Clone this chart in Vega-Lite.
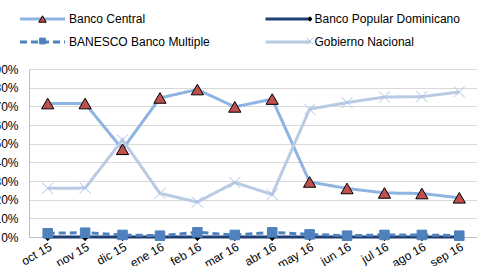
{
  "$schema": "https://vega.github.io/schema/vega-lite/v6.json",
  "width": 449,
  "height": 168,
  "autosize": {"type": "none"},
  "padding": {"left": 29, "top": 69, "right": 0, "bottom": 29},
  "background": "white",
  "config": {
    "view": {"stroke": null},
    "font": "Liberation Sans",
    "axis": {"labelFont": "Liberation Sans", "labelFontSize": 12, "labelColor": "#000000", "title": null},
    "legend": {"labelFont": "Liberation Sans", "labelFontSize": 12, "labelColor": "#000000"}
  },
  "data": {
    "values": [
      {"mes": "oct 15", "serie": "Banco Central", "valor": 0.715},
      {"mes": "nov 15", "serie": "Banco Central", "valor": 0.715},
      {"mes": "dic 15", "serie": "Banco Central", "valor": 0.47},
      {"mes": "ene 16", "serie": "Banco Central", "valor": 0.745},
      {"mes": "feb 16", "serie": "Banco Central", "valor": 0.79},
      {"mes": "mar 16", "serie": "Banco Central", "valor": 0.697},
      {"mes": "abr 16", "serie": "Banco Central", "valor": 0.739},
      {"mes": "may 16", "serie": "Banco Central", "valor": 0.295},
      {"mes": "jun 16", "serie": "Banco Central", "valor": 0.26},
      {"mes": "jul 16", "serie": "Banco Central", "valor": 0.236},
      {"mes": "ago 16", "serie": "Banco Central", "valor": 0.233},
      {"mes": "sep 16", "serie": "Banco Central", "valor": 0.21},
      {"mes": "oct 15", "serie": "Banco Popular Dominicano", "valor": 0.0},
      {"mes": "nov 15", "serie": "Banco Popular Dominicano", "valor": 0.0},
      {"mes": "dic 15", "serie": "Banco Popular Dominicano", "valor": 0.0},
      {"mes": "ene 16", "serie": "Banco Popular Dominicano", "valor": 0.0},
      {"mes": "feb 16", "serie": "Banco Popular Dominicano", "valor": 0.0},
      {"mes": "mar 16", "serie": "Banco Popular Dominicano", "valor": 0.0},
      {"mes": "abr 16", "serie": "Banco Popular Dominicano", "valor": 0.0},
      {"mes": "may 16", "serie": "Banco Popular Dominicano", "valor": 0.0},
      {"mes": "jun 16", "serie": "Banco Popular Dominicano", "valor": 0.0},
      {"mes": "jul 16", "serie": "Banco Popular Dominicano", "valor": 0.0},
      {"mes": "ago 16", "serie": "Banco Popular Dominicano", "valor": 0.0},
      {"mes": "sep 16", "serie": "Banco Popular Dominicano", "valor": 0.0},
      {"mes": "oct 15", "serie": "BANESCO Banco Multiple", "valor": 0.02},
      {"mes": "nov 15", "serie": "BANESCO Banco Multiple", "valor": 0.023},
      {"mes": "dic 15", "serie": "BANESCO Banco Multiple", "valor": 0.011},
      {"mes": "ene 16", "serie": "BANESCO Banco Multiple", "valor": 0.007},
      {"mes": "feb 16", "serie": "BANESCO Banco Multiple", "valor": 0.025},
      {"mes": "mar 16", "serie": "BANESCO Banco Multiple", "valor": 0.011},
      {"mes": "abr 16", "serie": "BANESCO Banco Multiple", "valor": 0.025},
      {"mes": "may 16", "serie": "BANESCO Banco Multiple", "valor": 0.014},
      {"mes": "jun 16", "serie": "BANESCO Banco Multiple", "valor": 0.007},
      {"mes": "jul 16", "serie": "BANESCO Banco Multiple", "valor": 0.011},
      {"mes": "ago 16", "serie": "BANESCO Banco Multiple", "valor": 0.011},
      {"mes": "sep 16", "serie": "BANESCO Banco Multiple", "valor": 0.007},
      {"mes": "oct 15", "serie": "Gobierno Nacional", "valor": 0.261},
      {"mes": "nov 15", "serie": "Gobierno Nacional", "valor": 0.262},
      {"mes": "dic 15", "serie": "Gobierno Nacional", "valor": 0.52},
      {"mes": "ene 16", "serie": "Gobierno Nacional", "valor": 0.234},
      {"mes": "feb 16", "serie": "Gobierno Nacional", "valor": 0.187},
      {"mes": "mar 16", "serie": "Gobierno Nacional", "valor": 0.292},
      {"mes": "abr 16", "serie": "Gobierno Nacional", "valor": 0.228},
      {"mes": "may 16", "serie": "Gobierno Nacional", "valor": 0.685},
      {"mes": "jun 16", "serie": "Gobierno Nacional", "valor": 0.72},
      {"mes": "jul 16", "serie": "Gobierno Nacional", "valor": 0.75},
      {"mes": "ago 16", "serie": "Gobierno Nacional", "valor": 0.752},
      {"mes": "sep 16", "serie": "Gobierno Nacional", "valor": 0.777}
    ]
  },
  "encoding": {
    "x": {
      "field": "mes",
      "type": "ordinal",
      "sort": ["oct 15", "nov 15", "dic 15", "ene 16", "feb 16", "mar 16", "abr 16", "may 16", "jun 16", "jul 16", "ago 16", "sep 16"],
      "axis": {"labelAngle": -30, "ticks": false, "labelPadding": 4, "domainColor": "#BFBFBF", "grid": false}
    },
    "y": {
      "field": "valor",
      "type": "quantitative",
      "scale": {"domain": [0, 0.9], "nice": false},
      "axis": {"format": ".0%", "values": [0, 0.1, 0.2, 0.3, 0.4, 0.5, 0.6, 0.7, 0.8, 0.9], "ticks": false, "labelPadding": 11, "domainColor": "#BFBFBF", "gridColor": "#D9D9D9", "gridWidth": 1}
    }
  },
  "layer": [
    {
      "mark": {"type": "line", "strokeWidth": 3},
      "encoding": {
        "color": {
          "field": "serie",
          "type": "nominal",
          "sort": "descending",
          "scale": {
            "range": ["#B9CAE3", "#1F3F73", "#8DB4E2", "#4F81BD"]
          },
          "legend": {
            "orient": "none", "legendX": -10.5, "legendY": -57, "columns": 2, "direction": "horizontal",
            "columnPadding": 53.5, "rowPadding": 9,
            "clipHeight": 14, "symbolType": "stroke", "symbolSize": 2025, "symbolStrokeWidth": 3, "labelOffset": 2.5,
            "title": null, "padding": 0,
            "values": ["Banco Central", "Banco Popular Dominicano", "BANESCO Banco Multiple", "Gobierno Nacional"]
          }
        },
        "strokeDash": {
          "field": "serie",
          "type": "nominal",
          "sort": "descending",
          "scale": {
            "range": [[1, 0], [1, 0], [1, 0], [7, 4]]
          }
        }
      }
    },
    {
      "mark": {"type": "point", "filled": true, "opacity": 1, "strokeWidth": 1, "size": 150},
      "encoding": {
        "shape": {
          "field": "serie",
          "type": "nominal",
          "scale": {
            "range": ["M-0.78,-0.78H0.78V0.78H-0.78Z", "triangle-up", "M0,-0.6L0.55,0L0,0.6L-0.55,0Z", "M-0.9,-0.9L0.9,0.9M-0.9,0.9L0.9,-0.9"]
          },
          "legend": {
            "orient": "none", "legendX": -10.5, "legendY": -56, "columns": 2, "direction": "horizontal",
            "columnPadding": 198.5, "rowPadding": 10,
            "symbolSize": 55, "symbolStrokeWidth": 1, "symbolOffset": 18, "labelOffset": 38.5,
            "labelExpr": "''", "title": null, "padding": 0, "zindex": 1,
            "values": ["Banco Central", "Banco Popular Dominicano", "BANESCO Banco Multiple", "Gobierno Nacional"],
            "encode": {
              "symbols": {
                "fill": {"value": {"expr": "scale('fill', datum.value)"}},
                "stroke": {"value": {"expr": "scale('stroke', datum.value)"}}
              }
            }
          }
        },
        "fill": {
          "field": "serie",
          "type": "nominal",
          "scale": {
            "range": ["#4F81BD", "#C0504D", "#000000", "transparent"]
          }
        },
        "stroke": {
          "field": "serie",
          "type": "nominal",
          "scale": {
            "range": ["#4F81BD", "#000000", "#000000", "#A9C4EB"]
          }
        }
      }
    }
  ]
}
